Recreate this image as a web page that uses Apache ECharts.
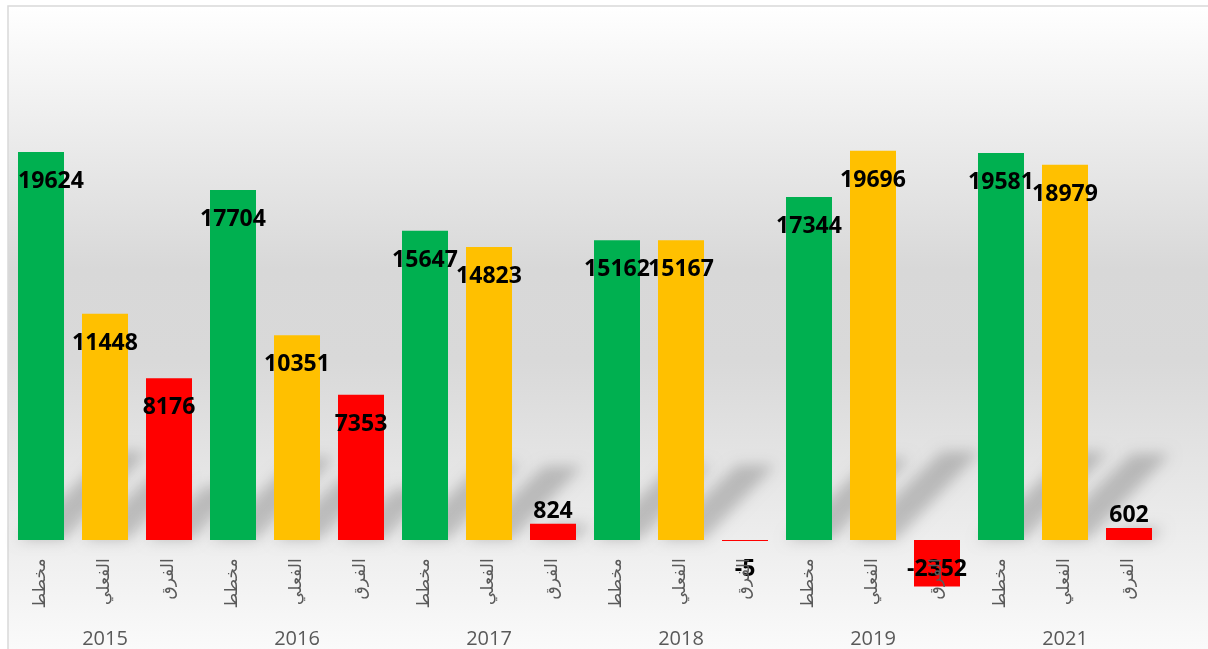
<!DOCTYPE html>
<html>
<head>
<meta charset="utf-8">
<script src="https://cdn.jsdelivr.net/npm/echarts@6/dist/echarts.min.js"></script>
<style>
	html, body { margin: 0; padding: 0; background: #ffffff; }
	#main { width: 1208px; height: 649px; }
</style>
</head>
<body>
<div id="main"></div>
<script>
	// data
	var years = ['2015', '2016', '2017', '2018', '2019', '2021'];
	var groupLabels = ['مخطط', 'الفعلي', 'الفرق'];
	var planned = [19624, 17704, 15647, 15162, 17344, 19581];
	var actual = [11448, 10351, 14823, 15167, 19696, 18979];
	var diff = [8176, 7353, 824, -5, -2352, 602];

	var colors = ['#00B050', '#FFC000', '#FF0000'];
	var BAR_W = 46;

	var categories = [];
	var barData = [];
	var values = [];
	years.forEach(function (y, i) {
		[planned[i], actual[i], diff[i]].forEach(function (v, k) {
			categories.push(groupLabels[k]);
			values.push(v);
			var item = {
				value: v,
				itemStyle: { color: colors[k] }
			};
			// short positive bars get their label above the bar
			if (v > 0 && v < 2000) {
				item.label = { position: 'top', distance: 1 };
			}
			// first label is pushed inside the plot like excel does
			if (barData.length === 0) {
				item.label = { offset: [10, 0] };
			}
			barData.push(item);
		});
	});

	// soft slanted shadow behind each bar (excel perspective shadow)
	function renderShadow(params, api) {
		var v = api.value(1);
		if (v <= 0) return;
		var base = api.coord([api.value(0), 0]);
		var h = api.size([0, v])[1];
		var s = Math.min(h, 30 + 0.15 * h);
		var half = BAR_W / 2;
		var shift = 3000; // shape drawn off screen, only its blurred shadow shows
		var x = base[0] - shift, y = base[1];
		return {
			type: 'polygon',
			shape: {
				points: [
					[x - half, y],
					[x + half, y],
					[x + half + s * 0.95, y - s],
					[x - half + s * 0.95 + 8, y - s]
				]
			},
			style: {
				fill: '#000',
				shadowColor: 'rgba(0,0,0,0.2)',
				shadowBlur: 14,
				shadowOffsetX: shift
			},
			silent: true
		};
	}

	var chart = echarts.init(document.getElementById('main'));
	var option = {
		animation: false,
		graphic: [
			{
				type: 'rect',
				z: -100,
				shape: { x: 8, y: 6, width: 1220, height: 660 },
				style: {
					fill: new echarts.graphic.LinearGradient(0, 0, 0, 1, [
						{ offset: 0, color: '#ffffff' },
						{ offset: 0.4, color: '#d8d8d8' },
						{ offset: 0.54, color: '#d9d9d9' },
						{ offset: 0.74, color: '#e8e8e8' },
						{ offset: 1, color: '#fcfcfc' }
					]),
					stroke: '#d9d9d9',
					lineWidth: 1.5
				},
				silent: true
			}
		],
		grid: [
			{
				left: 9,
				right: 47,
				top: 95.2,
				bottom: 59.6,
				outerBoundsMode: 'none'
			},
			{
				// thin strip only used for the year labels
				left: 9,
				right: 47,
				top: 620,
				height: 6,
				outerBoundsMode: 'none'
			}
		],
		yAxis: [
			{
				type: 'value',
				gridIndex: 0,
				min: -2500,
				max: 22500,
				show: false
			},
			{
				type: 'value',
				gridIndex: 1,
				show: false
			}
		],
		xAxis: [
			{
				type: 'category',
				gridIndex: 0,
				data: categories,
				z: 3,
				axisLine: { show: false, onZero: false },
				axisTick: { show: false },
				axisLabel: {
					interval: 0,
					rotate: 90,
					// grid bottom is below zero, pull the names up under the zero line
					margin: -31,
					color: '#595959',
					fontSize: 17,
					fontFamily: 'DejaVu Sans'
				}
			},
			{
				type: 'category',
				gridIndex: 1,
				data: years,
				axisLine: { show: false },
				axisTick: { show: false },
				axisLabel: {
					interval: 0,
					margin: 3,
					color: '#595959',
					fontSize: 20,
					fontFamily: 'Open Sans'
				}
			}
		],
		series: [
			{
				type: 'custom',
				xAxisIndex: 0,
				yAxisIndex: 0,
				z: 1,
				clip: false,
				renderItem: renderShadow,
				encode: { x: 0, y: 1 },
				data: values.map(function (v, i) { return [i, v]; })
			},
			{
				type: 'bar',
				xAxisIndex: 0,
				yAxisIndex: 0,
				z: 2,
				barWidth: BAR_W,
				barMinHeight: 1,
				data: barData,
				label: {
					show: true,
					position: 'insideTop',
					distance: 18,
					color: '#000000',
					fontSize: 23,
					fontWeight: 'bold',
					fontFamily: 'Open Sans'
				}
			}
		]
	};
	chart.setOption(option);
</script>
</body>
</html>
